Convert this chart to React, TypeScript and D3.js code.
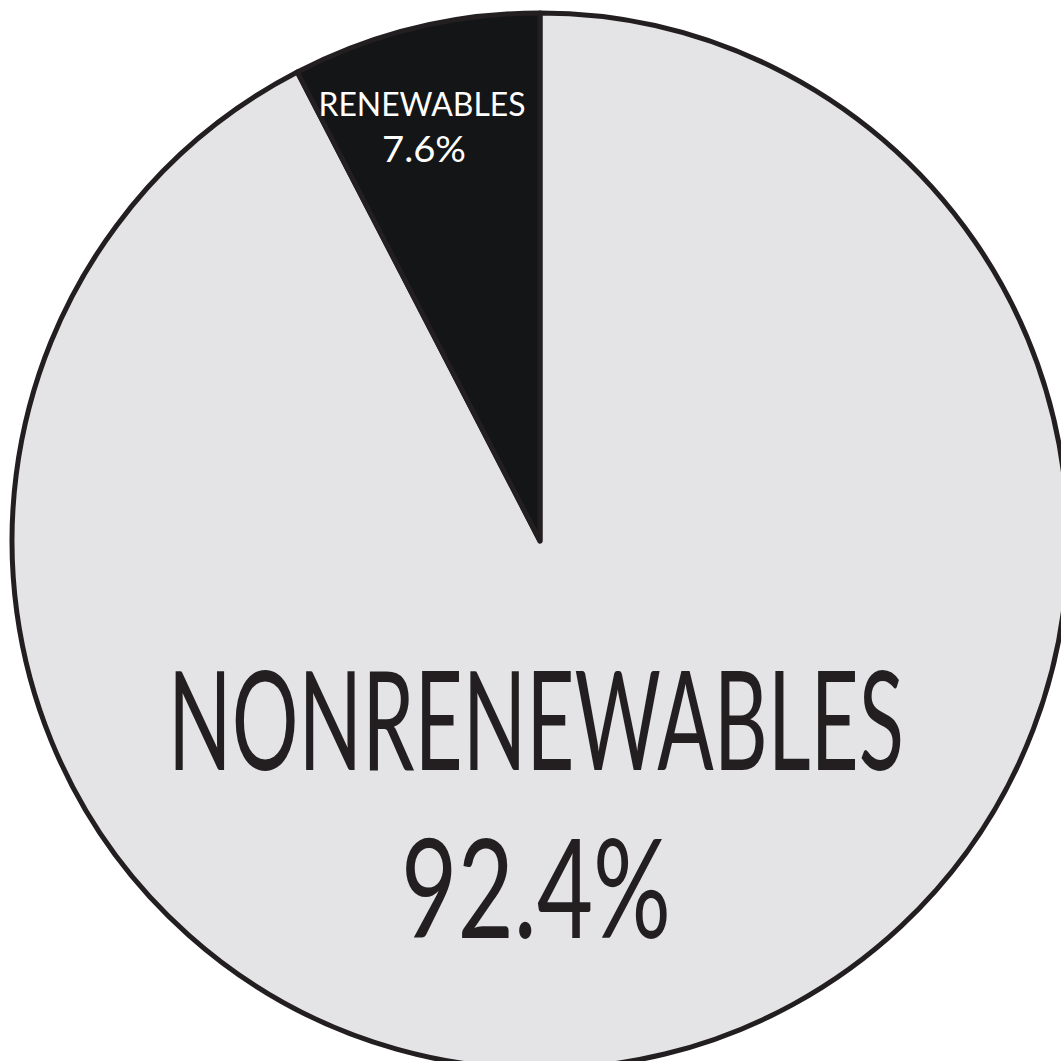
import React from "react";
import * as d3 from "d3";

const categories = ["NONRENEWABLES", "RENEWABLES"];
const values = [92.4, 7.6];
const valueLabels = ["92.4%", "7.6%"];
const fills = ["#e4e4e6", "#141516"];

const W = 1061;
const H = 1061;
const cx = 540;
const cy = 541;
const R = 528;

export default function App() {
  const pie = d3.pie<number>().sort(null).value((d) => d).startAngle(0).endAngle(2 * Math.PI);
  const arcs = pie(values);
  const arc = d3.arc<d3.PieArcDatum<number>>().innerRadius(0).outerRadius(R);
  const font = "Lato, 'Open Sans', sans-serif";

  return (
    <svg width={W} height={H} style={{ position: "absolute", left: 0, top: 0, background: "#fff" }}>
      <g transform={`translate(${cx},${cy})`}>
        {arcs.map((a, i) => (
          <path
            key={categories[i]}
            d={arc(a) || ""}
            fill={fills[i]}
            stroke="#231f20"
            strokeWidth={5}
            strokeLinejoin="round"
          />
        ))}
        <g transform="translate(-4,229) scale(1,1.26)">
          <text
            x={0}
            y={0}
            textAnchor="middle"
            fontFamily={font}
            fontSize={110}
            fill="#231f20"
            textLength={736}
            lengthAdjust="spacingAndGlyphs"
          >
            {categories[0]}
          </text>
        </g>
        <g transform="translate(-4,397) scale(1,1.26)">
          <text
            x={0}
            y={0}
            textAnchor="middle"
            fontFamily={font}
            fontSize={110}
            fill="#231f20"
            textLength={270}
            lengthAdjust="spacingAndGlyphs"
          >
            {valueLabels[0]}
          </text>
        </g>
        <text
          x={-118}
          y={-425}
          textAnchor="middle"
          fontFamily={font}
          fontSize={33}
          fill="#ffffff"
          textLength={207}
          lengthAdjust="spacingAndGlyphs"
        >
          {categories[1]}
        </text>
        <text
          x={-116}
          y={-379}
          textAnchor="middle"
          fontFamily={font}
          fontSize={37}
          fill="#ffffff"
          textLength={84}
          lengthAdjust="spacingAndGlyphs"
        >
          {valueLabels[1]}
        </text>
      </g>
    </svg>
  );
}
